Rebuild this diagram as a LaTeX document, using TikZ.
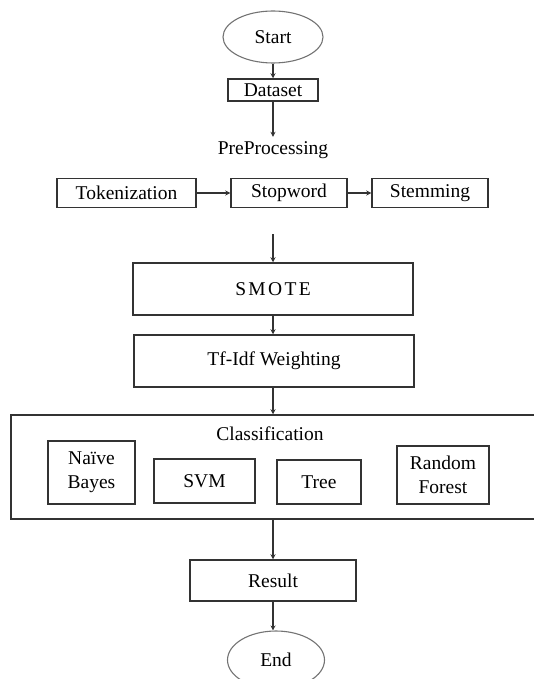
\documentclass[tikz,border=0pt]{standalone}
\usepackage{fontspec}
\setmainfont{Liberation Serif}
\usetikzlibrary{arrows.meta,shapes.geometric}
\begin{document}
\begin{tikzpicture}[x=1pt,y=-1pt,
  font=\fontsize{19.5}{22}\selectfont,
  box/.style={draw=black!80,line width=1.5pt,fill=white,inner sep=0pt,minimum width=#1},
  oval/.style={ellipse,draw=black!55,line width=1.1pt,inner sep=0pt},
  arr/.style={draw=black!80,line width=1.5pt,-{Stealth[length=5pt,width=5pt]}},
  ln/.style={draw=black!80,line width=1.5pt}]
\useasboundingbox (0,0) rectangle (533,679);
\node[oval,minimum width=100pt,minimum height=52pt] (start) at (273,37) {Start};
\node[box=90pt,minimum height=22pt] (data) at (273,90) {Dataset};
\node[inner sep=0pt,minimum height=26pt] (pre) at (273,150) {PreProcessing};
\node[box=139pt,minimum height=29pt] (tok) at (126.5,193) {Tokenization};
\node[box=116pt,minimum height=29pt] (stop) at (289,193) {Stopword};
\node[box=116pt,minimum height=29pt] (stem) at (430,193) {Stemming};
\coordinate (c1) at (273,234);
\node[box=280pt,minimum height=52pt] (smote) at (273,289) {\addfontfeature{LetterSpace=12}SMOTE};
\node[box=280pt,minimum height=52pt] (tfidf) at (274,361) {Tf-Idf Weighting};
\node[box=534pt,minimum height=104pt] (cls) at (278,467) {};
\node[inner sep=0pt] (clst) at (270,434) {Classification};
\node[box=87pt,minimum height=63pt,align=center,font=\fontsize{19.5}{24}\selectfont] (nb) at (91.5,472.5) {Naïve\\Bayes};
\node[box=101pt,minimum height=44pt] (svm) at (204.5,481) {SVM};
\node[box=84pt,minimum height=44pt] (tree) at (319,482) {Tree};
\node[box=92pt,minimum height=58pt,align=center,font=\fontsize{19.5}{24}\selectfont] (rf) at (443,475) {Random\\Forest};
\node[box=166pt,minimum height=41pt] (res) at (273,580.5) {Result};
\node[oval,minimum width=97pt,minimum height=58pt] (end) at (276,660) {End};
\draw[arr] (start.south) -- (data.north);
\draw[arr] (data.south) -- (pre.north);
\draw[arr] (tok.east) -- (stop.west);
\draw[arr] (stop.east) -- (stem.west);
\draw[arr] (c1) -- (smote.north);
\draw[arr] (smote.south) -- (smote.south |- tfidf.north);
\draw[arr] (smote.south |- tfidf.south) -- (smote.south |- cls.north);
\draw[arr] (res.north |- cls.south) -- (res.north);
\draw[arr] (res.south) -- (end.north -| res.south);
\end{tikzpicture}
\end{document}
